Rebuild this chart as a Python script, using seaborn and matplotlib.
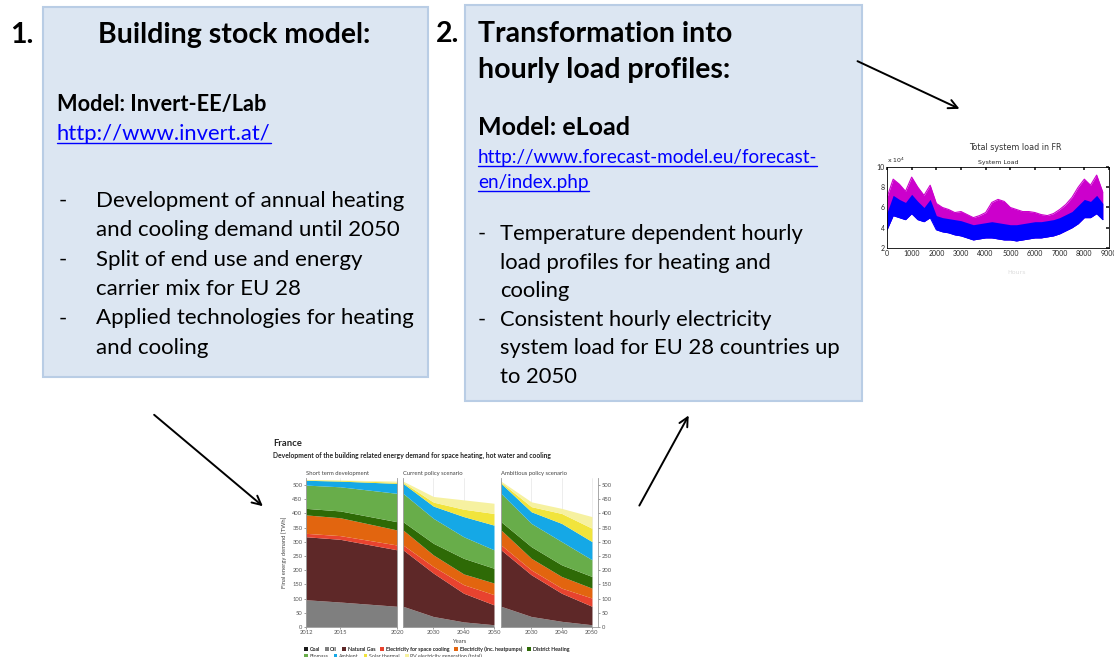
import numpy as np
import matplotlib
matplotlib.use("Agg")
import matplotlib.pyplot as plt
from matplotlib.patches import Rectangle, Patch, FancyArrowPatch
from matplotlib.lines import Line2D
import seaborn as sns

sns.set_theme(style="white")
plt.rcParams['font.family'] = ['Lato', 'DejaVu Sans']

W, H = 1114, 657

# final energy demand for buildings, France [TWh], one row per carrier
carriers = ['Coal', 'Oil', 'Natural Gas', 'Electricity for space cooling',
            'Electricity (inc. heatpumps)', 'District Heating', 'Biomass',
            'Ambient', 'Solar thermal', 'PV electricity generation (total)']
carrier_colors = ['#1a1a1a', '#7f7f7f', '#5e2828', '#e8432f', '#e2650f',
                  '#2e6a06', '#68ad4a', '#15a8e6', '#f1e43c', '#f6f1a0']

short_years = [2012, 2015, 2020]
short_term = [
    [1, 1, 1],
    [95, 87, 72],
    [222, 221, 199],
    [12, 13, 17],
    [65, 63, 53],
    [23, 24, 29],
    [82, 85, 100],
    [17, 20, 35],
    [2, 3, 4],
    [1, 1, 4],
]

scen_years = [2020, 2030, 2040, 2050]
current_policy = [
    [1, 0, 0, 0],
    [72, 37, 18, 8],
    [199, 153, 101, 70],
    [17, 23, 30, 36],
    [53, 41, 38, 41],
    [29, 41, 55, 52],
    [100, 88, 76, 65],
    [35, 43, 71, 87],
    [4, 14, 26, 41],
    [4, 20, 33, 36],
]
ambitious_policy = [
    [1, 0, 0, 0],
    [72, 37, 20, 8],
    [199, 147, 99, 65],
    [17, 17, 18, 29],
    [53, 41, 41, 35],
    [29, 41, 41, 41],
    [100, 82, 82, 59],
    [35, 41, 64, 64],
    [4, 18, 35, 47],
    [4, 17, 18, 41],
]

# total system load in FR (x 10^4 MW), envelopes read every 250 h
load_hours = list(range(0, 9000, 250))
load_magenta_high = [7.0, 8.8, 8.3, 7.6, 9.0, 8.0, 7.2, 8.2, 6.4, 6.0, 5.8, 5.5,
                     5.6, 5.3, 5.0, 5.2, 5.5, 6.5, 6.8, 6.6, 6.0, 5.8, 5.6, 5.6,
                     5.5, 5.3, 5.2, 5.4, 5.8, 6.3, 7.0, 8.0, 8.8, 8.2, 9.2, 7.5]
load_blue_high = [5.5, 7.2, 6.8, 6.5, 7.3, 6.6, 6.0, 6.8, 5.2, 5.0, 4.9, 4.8,
                  4.7, 4.5, 4.3, 4.4, 4.5, 4.6, 4.5, 4.4, 4.3, 4.3, 4.4, 4.5,
                  4.6, 4.6, 4.7, 4.8, 5.0, 5.3, 5.6, 6.2, 6.8, 6.6, 7.2, 6.4]
load_blue_low = [3.8, 5.2, 5.0, 4.8, 5.4, 4.8, 4.6, 5.0, 3.8, 3.6, 3.5, 3.3,
                 3.2, 3.0, 2.8, 2.9, 3.0, 3.0, 2.9, 2.8, 2.8, 2.7, 2.8, 2.9,
                 3.0, 3.0, 3.1, 3.2, 3.4, 3.7, 4.0, 4.4, 5.0, 5.0, 5.4, 4.8]


def fx(x):
    return x / W


def fy(y):
    return 1 - y / H


def px_axes(x0, y0, x1, y1):
    return fig.add_axes([x0 / W, 1 - y1 / H, (x1 - x0) / W, (y1 - y0) / H])


fig = plt.figure(figsize=(W / 100, H / 100), dpi=100)

# --- text boxes
for (x0, y0, x1, y1) in [(43, 7, 428, 377), (465, 5, 862, 401)]:
    fig.patches.append(Rectangle((fx(x0), fy(y1)), (x1 - x0) / W, (y1 - y0) / H,
                                 transform=fig.transFigure, facecolor='#dce6f2',
                                 edgecolor='#b9cde5', lw=1.5, zorder=0))

links = []


def put(x, y, s, size, bold=False, color='black', ha='left', link=False):
    t = fig.text(fx(x), fy(y), s, fontsize=size, ha=ha, va='baseline', color=color,
                 fontweight='bold' if bold else 'normal')
    if link:
        links.append((t, y))
    return t


put(10, 43, '1.', 20.5, bold=True)
put(234, 43, 'Building stock model:', 20.5, bold=True, ha='center')
put(57, 111, 'Model: Invert-EE/Lab', 15.7, bold=True)
put(57, 140, 'http://www.invert.at/', 15.8, color='#0000ff', link=True)

box1_lines = [('-', 'Development of annual heating'), ('', 'and cooling demand until 2050'),
              ('-', 'Split of end use and energy'), ('', 'carrier mix for EU 28'),
              ('-', 'Applied technologies for heating'), ('', 'and cooling')]
for i, (dash, s) in enumerate(box1_lines):
    y = 207 + i * 29.3
    if dash:
        put(59, y, dash, 16)
    put(96, y, s, 16)

put(436, 42, '2.', 20.5, bold=True)
put(478, 42, 'Transformation into', 20.5, bold=True)
put(478, 78, 'hourly load profiles:', 20.5, bold=True)
put(478, 135, 'Model: eLoad', 18, bold=True)
put(478, 163, 'http://www.forecast-model.eu/forecast-', 13.6, color='#0000ff', link=True)
put(478, 188, 'en/index.php', 13.6, color='#0000ff', link=True)

box2_lines = [('-', 'Temperature dependent hourly'), ('', 'load profiles for heating and'),
              ('', 'cooling'), ('-', 'Consistent hourly electricity'),
              ('', 'system load for EU 28 countries up'), ('', 'to 2050')]
for i, (dash, s) in enumerate(box2_lines):
    y = 240 + i * 28.6
    if dash:
        put(478, y, dash, 15.8)
    put(500, y, s, 15.8)

# --- arrows
for (a, b) in [((855, 60), (962, 110)), ((152, 413), (265, 508)), ((638, 508), (690, 413))]:
    fig.add_artist(FancyArrowPatch((fx(a[0]), fy(a[1])), (fx(b[0]), fy(b[1])),
                                   transform=fig.transFigure, arrowstyle='->',
                                   mutation_scale=16, lw=1.4, color='black'))

# --- hourly load chart
axl = px_axes(887, 167, 1109, 248)
axl.fill_between(load_hours, load_blue_low, load_magenta_high, color='#cc00cc', lw=0)
sns.lineplot(x=load_hours, y=load_magenta_high, ax=axl, color='#cc00cc', lw=0.8)
axl.fill_between(load_hours, load_blue_low, load_blue_high, color='#0000ff', lw=0)
sns.lineplot(x=load_hours, y=load_blue_low, ax=axl, color='#0000ff', lw=0.8)
axl.set_xlim(0, 9000)
axl.set_ylim(2, 10)
axl.set_xticks(range(0, 9001, 1000))
axl.set_yticks([2, 4, 6, 8, 10])
axl.tick_params(direction='in', length=2, labelsize=5, top=True, right=True, pad=1.5)
for sp in axl.spines.values():
    sp.set_color('black')
    sp.set_linewidth(0.6)
axl.text(0.0, 1.02, r'x 10$^4$', transform=axl.transAxes, fontsize=4.5,
         family='DejaVu Sans', va='bottom')
axl.text(0.5, 1.02, 'System Load', transform=axl.transAxes, fontsize=4.5,
         family='DejaVu Sans', ha='center', va='bottom')
fig.text(fx(1015), fy(150), 'Total system load in FR', fontsize=5.8,
         family='DejaVu Sans', ha='center', va='baseline', color='#333333')
fig.text(fx(1017), fy(274), 'Hours', fontsize=4.5, family='DejaVu Sans',
         ha='center', color='#dddddd')

# --- stacked demand chart
fig.text(fx(273), fy(446), 'France', fontsize=6.8, fontweight='bold', va='baseline')
fig.text(fx(273), fy(458), 'Development of the building related energy demand for '
         'space heating, hot water and cooling', fontsize=4.9, fontweight='bold',
         va='baseline')

panels = [
    (px_axes(306, 478, 397, 627), short_years, short_term, (2012, 2020),
     [2012, 2015, 2020], 'Short term development'),
    (px_axes(403, 478, 494, 627), scen_years, current_policy, (2020, 2050),
     [2030, 2040, 2050], 'Current policy scenario'),
    (px_axes(501, 478, 598, 627), scen_years, ambitious_policy, (2020, 2052),
     [2030, 2040, 2050], 'Ambitious policy scenario'),
]
for i, (ax, yrs, rows, xl, xt, title) in enumerate(panels):
    ax.stackplot(yrs, *rows, colors=carrier_colors, lw=0)
    ax.set_xlim(*xl)
    ax.set_ylim(0, 525)
    ax.set_xticks(xt)
    ax.set_xticklabels([str(v) for v in xt])
    ax.grid(axis='x', color='#e6e6e6', lw=0.5)
    ax.set_axisbelow(True)
    ax.tick_params(axis='both', labelsize=4.2, colors='#555555', length=1.5,
                   width=0.4, pad=1, bottom=True)
    ax.set_yticks(range(0, 501, 50))
    for sp in ax.spines.values():
        sp.set_color('#9a9a9a')
        sp.set_linewidth(0.6)
    ax.spines['top'].set_visible(False)
    if i == 0:
        ax.tick_params(axis='y', left=True)
    elif i == 1:
        ax.spines['right'].set_visible(False)
        ax.tick_params(axis='y', left=False, labelleft=False)
    else:
        ax.tick_params(axis='y', left=False, labelleft=False, right=True, labelright=True)
    ax.text(0.0, 1.015, title, transform=ax.transAxes, fontsize=4.2,
            color='#444444', va='bottom')

fig.text(fx(459), fy(643), 'Years', fontsize=4.2, color='#444444', ha='center', va='baseline')
fig.text(fx(284), fy(552), 'Final energy demand [TWh]', fontsize=4.2, color='#444444',
         rotation=90, ha='center', va='center')

handles = [Patch(facecolor=c, edgecolor='none', label=l)
           for c, l in zip(carrier_colors, carriers)]
leg_kw = dict(frameon=False, fontsize=3.8, handlelength=0.7, handleheight=0.7,
              handletextpad=0.3, columnspacing=1.0, borderaxespad=0, borderpad=0,
              labelcolor='#444444', loc='center left')
leg1 = fig.legend(handles=handles[:6], ncol=6, bbox_to_anchor=(fx(304), fy(649)), **leg_kw)
fig.add_artist(leg1)
fig.legend(handles=handles[6:], ncol=4, bbox_to_anchor=(fx(304), fy(656)), **leg_kw)

# underline the links
fig.canvas.draw()
for t, y in links:
    bb = t.get_window_extent()
    fig.add_artist(Line2D([bb.x0 / W, bb.x1 / W], [fy(y + 3), fy(y + 3)],
                          transform=fig.transFigure, color='#0000ff', lw=1))

fig.savefig('out.png', dpi=100)
